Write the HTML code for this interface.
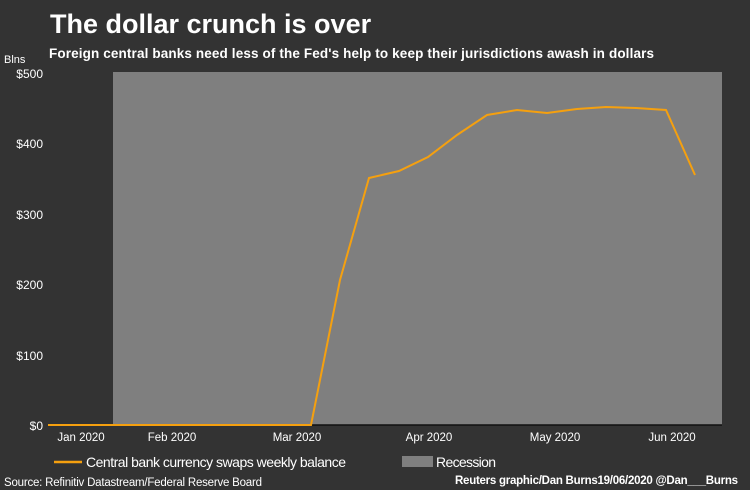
<!DOCTYPE html>
<html><head><meta charset="utf-8"><style>
body{margin:0;background:#333;width:750px;height:490px;overflow:hidden}
svg{display:block}
</style></head><body>
<svg width="750" height="490" xmlns="http://www.w3.org/2000/svg" font-family="Liberation Sans, sans-serif">
<rect width="750" height="490" fill="#333"/>
<text x="50" y="33" font-size="27" font-weight="bold" fill="#fff">The dollar crunch is over</text>
<text x="49" y="58" font-size="13.5" font-weight="bold" fill="#fff" textLength="605">Foreign central banks need less of the Fed's help to keep their jurisdictions awash in dollars</text>
<text x="4" y="63" font-size="11" fill="#fff">Blns</text>
<rect x="113" y="72" width="609" height="353" fill="#7f7f7f"/>
<line x1="48" y1="425" x2="722" y2="425" stroke="#111" stroke-width="1.5"/>
<g font-size="12" fill="#fff" text-anchor="end">
<text x="43" y="78">$500</text><text x="43" y="148">$400</text><text x="43" y="219">$300</text>
<text x="43" y="289">$200</text><text x="43" y="360">$100</text><text x="43" y="430">$0</text>
</g>
<g font-size="11.5" fill="#fff" text-anchor="middle" font-family="Liberation Sans Narrow, Liberation Sans, sans-serif">
<text x="81" y="441">Jan 2020</text><text x="172" y="441">Feb 2020</text><text x="297" y="441">Mar 2020</text>
<text x="429" y="441">Apr 2020</text><text x="555" y="441">May 2020</text><text x="672" y="441">Jun 2020</text>
</g>
<polyline fill="none" stroke="#f5a00f" stroke-width="2" points="48,425 311,425 340,280 369,178 399,171 428,157 457,135 487,115 517,110 547,113 577,109 606,107 636,108 666,110 695,175"/>
<line x1="54" y1="462" x2="82" y2="462" stroke="#f5a00f" stroke-width="2.5"/>
<g font-family="Liberation Sans Narrow, Liberation Sans, sans-serif" fill="#fff">
<text x="86" y="467" font-size="14" textLength="260">Central bank currency swaps weekly balance</text>
<rect x="402" y="456" width="31" height="11" fill="#7f7f7f"/>
<text x="436" y="467" font-size="14" textLength="60">Recession</text>
<text x="4" y="486" font-size="11.5" textLength="258">Source: Refinitiv Datastream/Federal Reserve Board</text>
<text x="455" y="484" font-size="11.5" font-weight="bold" textLength="283">Reuters graphic/Dan Burns19/06/2020 @Dan___Burns</text>
</g>
</svg>
</body></html>
